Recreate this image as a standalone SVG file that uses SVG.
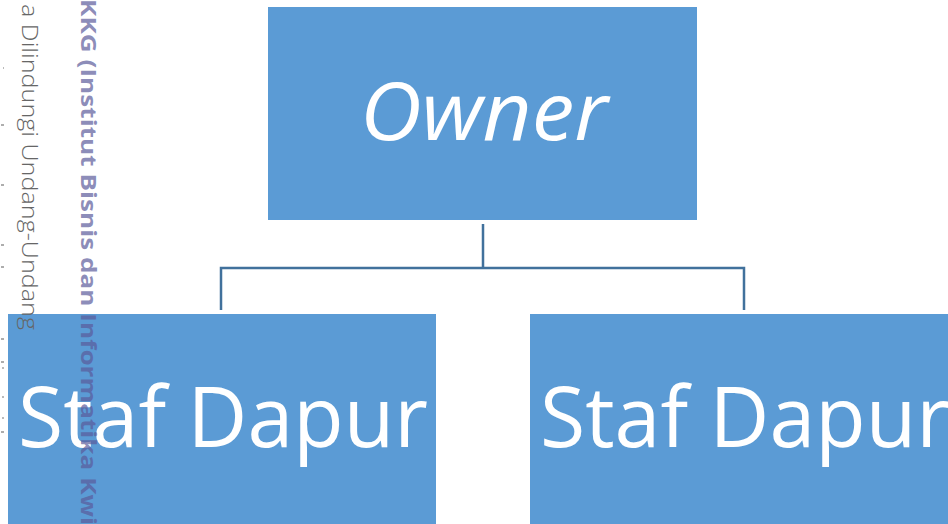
<svg xmlns="http://www.w3.org/2000/svg" width="948" height="524" viewBox="0 0 948 524">
<style>
.box{fill:#5B9BD5;}
.lbl{font-family:"Open Sans","Noto Sans","Liberation Sans",sans-serif;fill:#ffffff;text-anchor:middle;}
.conn{fill:none;stroke:#41719C;stroke-width:2.5;}
.wm1{font-family:"Open Sans","Noto Sans","Liberation Sans",sans-serif;font-weight:300;font-size:22px;fill:#666666;}
.wm2{font-family:"Open Sans","Noto Sans","Liberation Sans",sans-serif;font-weight:700;font-size:21px;fill:#5a5a9a;fill-opacity:0.7;}
.tick{stroke:#777777;stroke-width:1.2;}
</style>
<rect width="948" height="524" fill="#ffffff"/>
<g id="connectors">
<path class="conn" d="M483,224 V268 M221,310 V268 H744 V310"/>
</g>
<g id="owner">
<rect class="box" x="268" y="7" width="429" height="213"/>
<text class="lbl" x="484" y="140" font-size="80" font-style="italic" textLength="248" lengthAdjust="spacingAndGlyphs">Owner</text>
</g>
<g id="staf-dapur-1">
<rect class="box" x="8" y="314" width="428" height="210"/>
<text class="lbl" x="223" y="447" font-size="85" textLength="410" lengthAdjust="spacingAndGlyphs">Staf Dapur</text>
</g>
<g id="staf-dapur-2">
<rect class="box" x="530" y="314" width="418" height="210"/>
<text class="lbl" x="745" y="447" font-size="85" textLength="410" lengthAdjust="spacingAndGlyphs">Staf Dapur</text>
</g>
<g id="watermark">
<text class="wm1" transform="translate(22,4) rotate(90)" textLength="326" lengthAdjust="spacingAndGlyphs">a Dilindungi Undang-Undang</text>
<text class="wm2" transform="translate(81,-1) rotate(90)" textLength="526" lengthAdjust="spacingAndGlyphs">KKG (Institut Bisnis dan Informatika Kwi</text>
<g class="tick">
<line x1="3" y1="68" x2="4" y2="68"/>
<line x1="1" y1="125" x2="4" y2="125"/>
<line x1="1" y1="185" x2="4" y2="185"/>
<line x1="1" y1="245" x2="4" y2="245"/>
<line x1="1" y1="267" x2="4" y2="267"/>
<line x1="1" y1="339" x2="4" y2="339"/>
<line x1="1" y1="362" x2="4" y2="362"/>
<line x1="2" y1="368" x2="4" y2="368"/>
<line x1="2" y1="397" x2="4" y2="397"/>
<line x1="2" y1="418" x2="4" y2="418"/>
<line x1="1" y1="432" x2="4" y2="432"/>
</g>
</g>
</svg>
